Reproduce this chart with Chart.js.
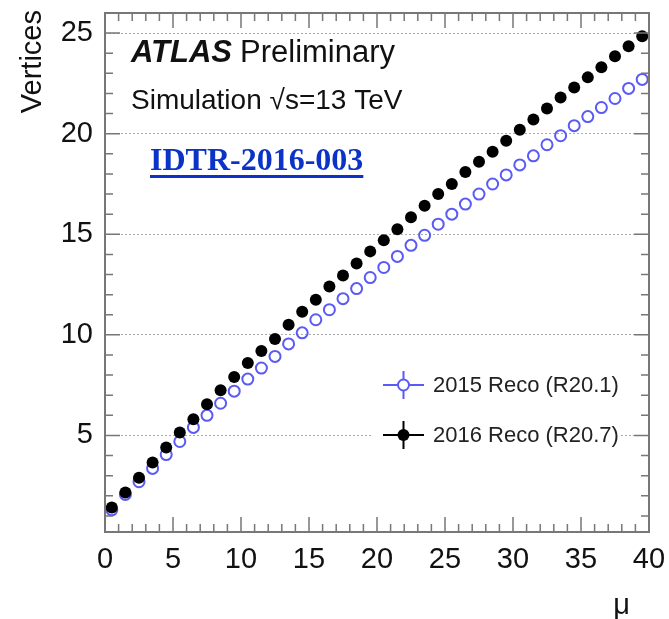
<!DOCTYPE html>
<html>
<head>
<meta charset="utf-8">
<script src="https://cdn.jsdelivr.net/npm/chart.js@4.4.0/dist/chart.umd.min.js"></script>
<style>
  html, body { margin: 0; padding: 0; background: #fff; }
  #wrap { position: relative; width: 669px; height: 619px; }
  #idtr {
    position: absolute; left: 150px; top: 143px;
    font: bold 32px "Liberation Serif", "Times New Roman", serif;
    line-height: 32px; color: #0b33c8;
    text-decoration: underline; text-decoration-thickness: 3px; text-underline-offset: 5px;
  }
</style>
</head>
<body>
<div id="wrap">
  <canvas id="vtxChart" width="669" height="619"></canvas>
  <a id="idtr" href="#">IDTR-2016-003</a>
</div>
<script>
// mu bin centres
const muBins = [0.5, 1.5, 2.5, 3.5, 4.5, 5.5, 6.5, 7.5, 8.5, 9.5,
  10.5, 11.5, 12.5, 13.5, 14.5, 15.5, 16.5, 17.5, 18.5, 19.5,
  20.5, 21.5, 22.5, 23.5, 24.5, 25.5, 26.5, 27.5, 28.5, 29.5,
  30.5, 31.5, 32.5, 33.5, 34.5, 35.5, 36.5, 37.5, 38.5, 39.5];

// reconstructed vertices, 2016 reco (R20.7)
const reco2016 = [1.42, 2.16, 2.9, 3.66, 4.4, 5.15, 5.8, 6.55, 7.25, 7.9,
  8.6, 9.2, 9.8, 10.5, 11.15, 11.75, 12.4, 12.95, 13.55, 14.15,
  14.7, 15.25, 15.85, 16.42, 17.0, 17.5, 18.1, 18.6, 19.1, 19.65,
  20.2, 20.7, 21.25, 21.8, 22.3, 22.8, 23.3, 23.85, 24.35, 24.85];

// reconstructed vertices, 2015 reco (R20.1)
const reco2015 = [1.3, 2.07, 2.7, 3.36, 4.05, 4.7, 5.4, 6.0, 6.6, 7.2,
  7.8, 8.35, 8.93, 9.55, 10.1, 10.75, 11.25, 11.8, 12.3, 12.85,
  13.35, 13.9, 14.45, 14.95, 15.5, 16.0, 16.5, 17.0, 17.5, 17.95,
  18.45, 18.9, 19.45, 19.9, 20.4, 20.85, 21.3, 21.75, 22.25, 22.7];

const xTicks = [0, 5, 10, 15, 20, 25, 30, 35, 40];
const yTicks = [5, 10, 15, 20, 25];

const FONT = '"Liberation Sans", Arial, Helvetica, sans-serif';
const BLUE = "#5a5af5";

const atlasDecor = {
  id: "atlasDecor",
  afterDatasetsDraw(chart) {
    const { ctx, chartArea: a, scales } = chart;
    const xs = scales.x, ys = scales.y;
    ctx.save();

    // frame ticks, ROOT style (inside, all four sides)
    ctx.strokeStyle = "#777";
    ctx.lineWidth = 1.5;
    ctx.beginPath();
    for (let v = 0; v <= 40; v++) {
      const px = xs.getPixelForValue(v);
      const len = v % 5 === 0 ? 15 : 8;
      ctx.moveTo(px, a.bottom); ctx.lineTo(px, a.bottom - len);
      ctx.moveTo(px, a.top); ctx.lineTo(px, a.top + len);
    }
    for (let v = 1; v <= 26; v++) {
      const py = ys.getPixelForValue(v);
      const len = v % 5 === 0 ? 15 : 8;
      ctx.moveTo(a.left, py); ctx.lineTo(a.left + len, py);
      ctx.moveTo(a.right, py); ctx.lineTo(a.right - len, py);
    }
    ctx.stroke();
    ctx.lineWidth = 2;
    ctx.strokeRect(a.left, a.top, a.right - a.left, a.bottom - a.top);

    // legend
    ctx.fillStyle = "#fff";
    ctx.fillRect(372, 366, 248, 86);
    const rows = [
      { ds: chart.data.datasets[1], y: 385, color: BLUE, filled: false },
      { ds: chart.data.datasets[0], y: 435, color: "#000", filled: true }
    ];
    rows.forEach(r => {
      ctx.strokeStyle = r.color;
      ctx.lineWidth = 2;
      ctx.beginPath();
      ctx.moveTo(383, r.y); ctx.lineTo(424, r.y);
      ctx.moveTo(403.5, r.y - 14); ctx.lineTo(403.5, r.y + 14);
      ctx.stroke();
      ctx.beginPath();
      ctx.arc(403.5, r.y, r.filled ? 6 : 5.5, 0, Math.PI * 2);
      if (r.filled) { ctx.fillStyle = r.color; ctx.fill(); }
      else { ctx.fillStyle = "#fff"; ctx.fill(); ctx.stroke(); }
      ctx.fillStyle = "#222";
      ctx.font = "22px " + FONT;
      ctx.textAlign = "left";
      ctx.textBaseline = "middle";
      ctx.fillText(r.ds.label, 433, r.y + 1);
    });

    // labels
    ctx.fillStyle = "#111";
    ctx.textBaseline = "alphabetic";
    ctx.font = "italic bold 31px " + FONT;
    ctx.fillText("ATLAS", 131, 62);
    const w = ctx.measureText("ATLAS").width;
    ctx.font = "31px " + FONT;
    ctx.fillText("Preliminary", 131 + w + 8, 62);
    ctx.font = "28px " + FONT;
    ctx.fillText("Simulation \u221As=13 TeV", 131, 109);

    // axis titles
    ctx.font = "29px " + FONT;
    ctx.textAlign = "right";
    ctx.fillText("\u03bc", 630, 614);
    ctx.translate(33, 10);
    ctx.rotate(-Math.PI / 2);
    ctx.textBaseline = "middle";
    ctx.fillText("Vertices", 0, 0);
    ctx.restore();
  }
};

new Chart(document.getElementById("vtxChart"), {
  type: "scatter",
  data: {
    datasets: [
      {
        label: "2016 Reco (R20.7)",
        data: muBins.map((m, i) => ({ x: m, y: reco2016[i] })),
        pointRadius: 6,
        pointBackgroundColor: "#000",
        pointBorderColor: "#000",
        pointBorderWidth: 0
      },
      {
        label: "2015 Reco (R20.1)",
        data: muBins.map((m, i) => ({ x: m, y: reco2015[i] })),
        pointRadius: 5.5,
        pointBackgroundColor: "rgba(255,255,255,0)",
        pointBorderColor: BLUE,
        pointBorderWidth: 2
      }
    ]
  },
  options: {
    responsive: false,
    animation: false,
    devicePixelRatio: 1,
    layout: { padding: { top: 13, right: 20, left: 0, bottom: 0 } },
    plugins: { legend: { display: false }, tooltip: { enabled: false } },
    scales: {
      x: {
        type: "linear",
        min: 0,
        max: 40,
        afterBuildTicks: (s) => { s.ticks = xTicks.map(v => ({ value: v })); },
        afterFit: (s) => { s.height = 87; s.paddingLeft = 0; s.paddingRight = 0; },
        grid: { display: false },
        border: { display: false },
        ticks: { padding: 3, color: "#111", font: { family: FONT, size: 29 }, maxRotation: 0, autoSkip: false }
      },
      y: {
        type: "linear",
        min: 0.2,
        max: 26,
        afterBuildTicks: (s) => { s.ticks = yTicks.map(v => ({ value: v })); },
        afterFit: (s) => { s.width = 105; s.paddingTop = 0; s.paddingBottom = 0; },
        grid: { color: "#aaa", lineWidth: 1, drawTicks: false },
        border: { display: false, dash: [2, 2] },
        ticks: { padding: 12, color: "#111", font: { family: FONT, size: 29 }, autoSkip: false }
      }
    }
  },
  plugins: [atlasDecor]
});
</script>
</body>
</html>
